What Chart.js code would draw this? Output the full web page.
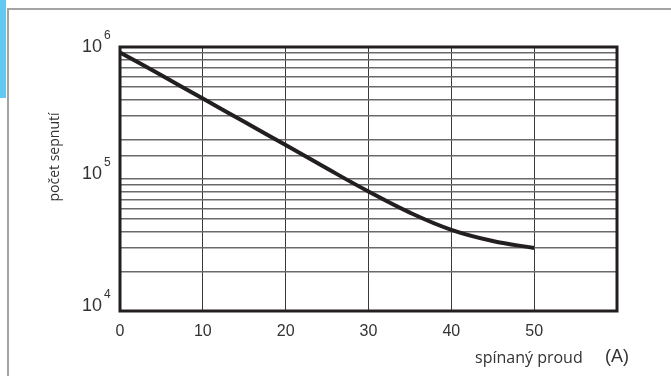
<!DOCTYPE html>
<html>
<head>
<meta charset="utf-8">
<script src="https://cdn.jsdelivr.net/npm/chart.js@4/dist/chart.umd.min.js"></script>
<style>
  html, body { margin: 0; padding: 0; background: #fff; }
  #wrap { position: relative; width: 671px; height: 376px; overflow: hidden; }
  #strip { position: absolute; left: 0; top: 0; width: 6px; height: 98px; background: #63c8f2; }
  #frame { position: absolute; left: 7px; top: 8px; right: -5px; bottom: -5px;
           border-top: 2px solid #a3a3a3; border-left: 2px solid #a3a3a3; }
  canvas { position: absolute; left: 0; top: 0; }
</style>
</head>
<body>
<div id="wrap">
  <div id="strip"></div>
  <div id="frame"></div>
  <canvas id="chart" width="671" height="376"></canvas>
</div>
<script>
// spínaný proud (A)
const current = [0, 5, 10, 15, 20, 25, 30, 35, 40, 45, 50];
// počet sepnutí
const cycles = [910000, 610000, 407000, 271000, 181000, 120000, 80400, 55600, 41200, 33900, 30000];
const xTicks = [0, 10, 20, 30, 40, 50];
const yLabelPowers = [4, 5, 6];

const ink = '#231f20';

// rámeček grafu, popisky osy y (10 s exponentem) a názvy os
const decorations = {
    id: 'decorations',
    afterDraw(chart) {
        const ctx = chart.ctx;
        const area = chart.chartArea;
        const y = chart.scales.y;
        ctx.save();
        ctx.strokeStyle = ink;
        ctx.lineWidth = 3;
        ctx.strokeRect(area.left, area.top, area.right - area.left, area.bottom - area.top);

        ctx.fillStyle = '#333';
        ctx.textBaseline = 'alphabetic';
        yLabelPowers.forEach(p => {
            let base = y.getPixelForValue(Math.pow(10, p));
            if (p === 6) base += 5;
            ctx.font = '18px "Liberation Sans", Arial, sans-serif';
            ctx.textAlign = 'right';
            ctx.fillText('10', 102, base);
            ctx.font = '12px "Liberation Sans", Arial, sans-serif';
            ctx.textAlign = 'left';
            ctx.fillText(String(p), 104, base - 13);
        });

        ctx.font = '16px "Open Sans", "Noto Sans", sans-serif';
        ctx.textAlign = 'left';
        ctx.fillText('spínaný proud', 475, 363);
        ctx.font = '18px "Liberation Sans", Arial, sans-serif';
        ctx.fillText('(A)', 605, 362);

        ctx.font = '14px "Open Sans", "Noto Sans", sans-serif';
        ctx.translate(59, 157);
        ctx.rotate(-Math.PI / 2);
        ctx.textAlign = 'center';
        ctx.fillText('počet sepnutí', 0, 0);
        ctx.restore();
    }
};

new Chart(document.getElementById('chart'), {
    type: 'line',
    data: {
        labels: current,
        datasets: [{
            data: current.map((c, i) => ({ x: c, y: cycles[i] })),
            borderColor: ink,
            borderWidth: 4,
            pointRadius: 0,
            fill: false,
            tension: 0.4
        }]
    },
    options: {
        responsive: false,
        animation: false,
        layout: { padding: { top: 47, right: 54, left: 0, bottom: 0 } },
        plugins: { legend: { display: false }, tooltip: { enabled: false } },
        scales: {
            x: {
                type: 'linear',
                min: 0,
                max: 60,
                afterFit: s => { s.height = 65; },
                afterBuildTicks: s => { s.ticks = xTicks.concat([60]).map(v => ({ value: v })); },
                border: { display: false },
                grid: { color: '#3a3a3a', lineWidth: 1, drawTicks: false },
                ticks: {
                    padding: 11,
                    color: '#333',
                    font: { family: '"Liberation Sans", Arial, sans-serif', size: 16 },
                    callback: v => (xTicks.includes(v) ? String(v) : '')
                }
            },
            y: {
                type: 'logarithmic',
                min: 10000,
                max: 1000000,
                afterFit: s => { s.width = 120; },
                border: { display: false },
                grid: { color: '#6a6a6a', lineWidth: 1.4, drawTicks: false },
                ticks: { display: false }
            }
        }
    },
    plugins: [decorations]
});
</script>
</body>
</html>
